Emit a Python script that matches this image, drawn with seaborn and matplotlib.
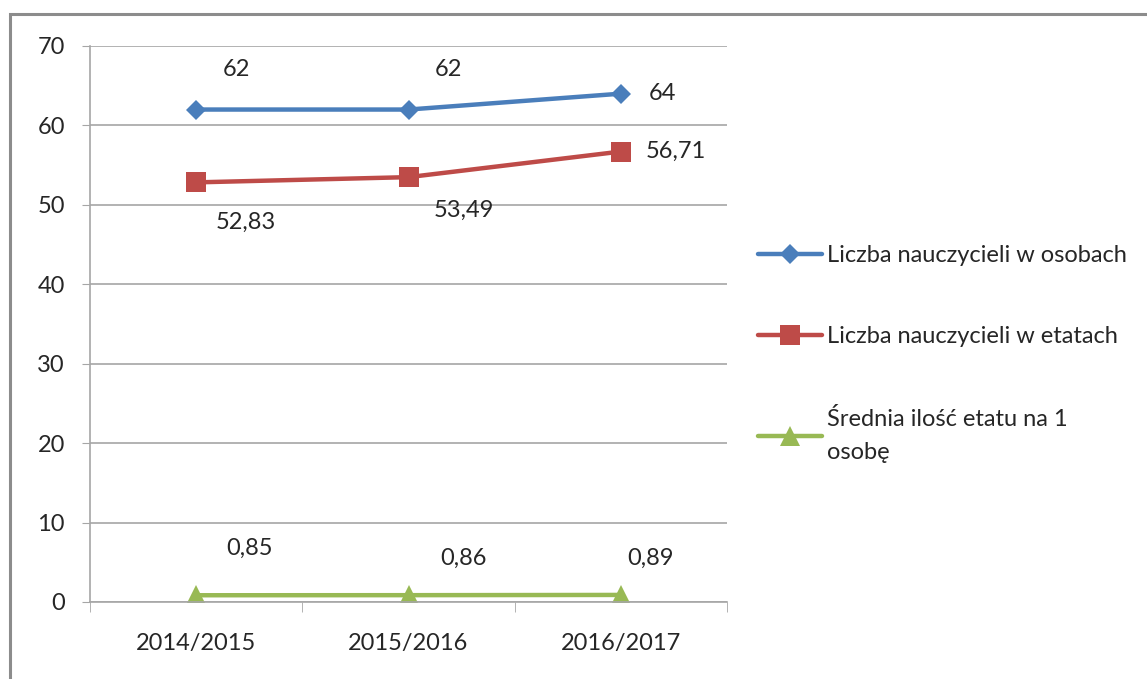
import pandas as pd
import matplotlib.pyplot as plt
import seaborn as sns
from matplotlib.patches import Rectangle

years = ["2014/2015", "2015/2016", "2016/2017"]
osoby = [62, 62, 64]
etaty = [52.83, 53.49, 56.71]
srednia = [0.85, 0.86, 0.89]
series_names = ["Liczba nauczycieli w osobach",
                "Liczba nauczycieli w etatach",
                "Średnia ilość etatu na 1\nosobę"]

df = pd.DataFrame({
    "Rok": years * 3,
    "Seria": [series_names[0]] * 3 + [series_names[1]] * 3 + [series_names[2]] * 3,
    "Wartość": osoby + etaty + srednia,
})

sns.set_style("white")
plt.rcParams["font.family"] = ["Lato", "DejaVu Sans"]

colors = ["#4A7EBB", "#BE4B48", "#98B954"]
markers = ["D", "s", "^"]
msizes = [10, 14, 15]
fs = 17

fig = plt.figure(figsize=(11.47, 6.79), dpi=100)
fig.patches.append(Rectangle((10 / 1147, -0.01), 1.2, (679 - 14) / 679 + 0.01,
                             transform=fig.transFigure, fill=False,
                             edgecolor="#8c8c8c", linewidth=2.2))
ax = fig.add_axes([90 / 1147, 1 - 602 / 679, 637 / 1147, 556 / 679])

for i, name in enumerate(series_names):
    sub = df[df["Seria"] == name]
    sns.lineplot(data=sub, x="Rok", y="Wartość", ax=ax, color=colors[i],
                 marker=markers[i], markersize=msizes[i], linewidth=3.2,
                 markeredgewidth=0, label=name, sort=False)

ax.set_xlim(-0.5, 2.5)
ax.set_ylim(0, 70)
ax.set_yticks(range(0, 71, 10))
ax.set_xlabel("")
ax.set_ylabel("")
ax.yaxis.grid(True, color="#a6a6a6", linewidth=1.2)
for s in ["top", "right"]:
    ax.spines[s].set_visible(False)
for s in ["left", "bottom"]:
    ax.spines[s].set_color("#a6a6a6")
    ax.spines[s].set_linewidth(1.2)
ax.tick_params(axis="y", length=6, color="#a6a6a6", labelsize=fs, pad=12, left=True)
ax.tick_params(axis="x", length=0, labelsize=fs, pad=22)
ax.set_xticks([-0.5, 0.5, 1.5, 2.5], minor=True)
ax.tick_params(axis="x", which="minor", length=7, color="#a6a6a6", bottom=True)
for t in ax.get_xticklabels() + ax.get_yticklabels():
    t.set_color("#262626")

def fmt(v):
    return f"{v:g}".replace(".", ",")

# data label offsets in pixels
label_pos = [
    [(40, 40), (40, 40), (42, 0)],
    [(50, -40), (55, -33), (55, 0)],
    [(53, 47), (55, 37), (30, 37)],
]
for i, vals in enumerate([osoby, etaty, srednia]):
    for j, v in enumerate(vals):
        dx, dy = label_pos[i][j]
        ax.annotate(fmt(v), (j, v), xytext=(dx, dy), textcoords="offset pixels",
                    ha="center", va="center", fontsize=fs, color="#262626")

ax.legend().remove()
handles, labels = ax.get_legend_handles_labels()
leg = fig.legend(handles, labels, loc="upper left",
                 bbox_to_anchor=(737 / 1147, 1 - 224 / 679),
                 frameon=False, fontsize=fs, handlelength=2.7, handletextpad=0.2,
                 labelspacing=2.55, labelcolor="#262626")
for t in leg.get_texts():
    t.set_linespacing(1.75)

fig.savefig("out.png", dpi=100)
